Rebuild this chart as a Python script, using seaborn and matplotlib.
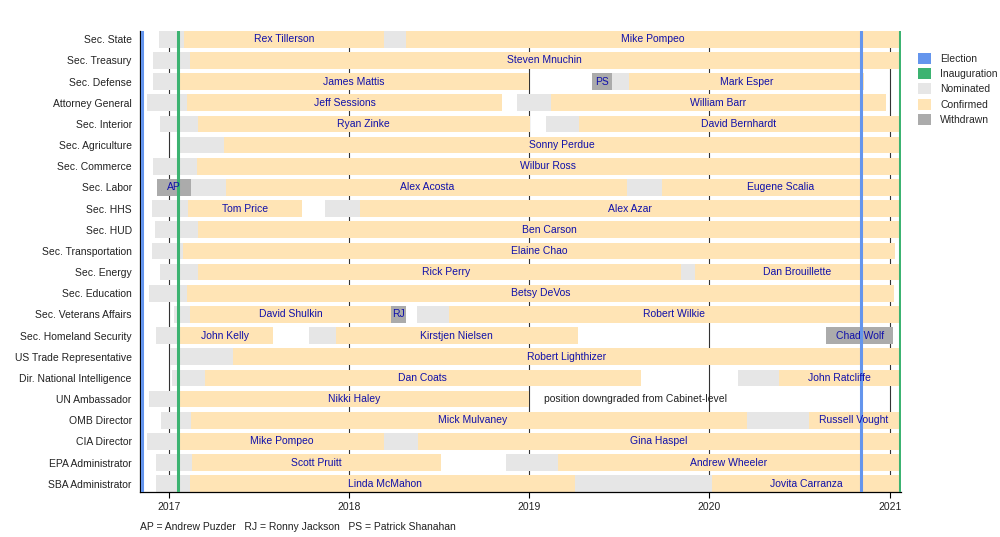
from pathlib import Path

import matplotlib.dates as mdates
import matplotlib.pyplot as plt
import pandas as pd
import seaborn as sns
from matplotlib.patches import Patch

# Rows, top to bottom
offices = [
    "Sec. State", "Sec. Treasury", "Sec. Defense", "Attorney General",
    "Sec. Interior", "Sec. Agriculture", "Sec. Commerce", "Sec. Labor",
    "Sec. HHS", "Sec. HUD", "Sec. Transportation", "Sec. Energy",
    "Sec. Education", "Sec. Veterans Affairs", "Sec. Homeland Security",
    "US Trade Representative", "Dir. National Intelligence", "UN Ambassador",
    "OMB Director", "CIA Director", "EPA Administrator", "SBA Administrator",
]

# (office, start, end) while a nominee waited for confirmation
nominated_spans = [
    ("Sec. State", "2016-12-13", "2017-02-01"),
    ("Sec. State", "2018-03-13", "2018-04-26"),
    ("Sec. Treasury", "2016-11-30", "2017-02-13"),
    ("Sec. Defense", "2016-12-01", "2017-01-20"),
    ("Sec. Defense", "2019-06-18", "2019-07-23"),
    ("Attorney General", "2016-11-18", "2017-02-08"),
    ("Attorney General", "2018-12-07", "2019-02-14"),
    ("Sec. Interior", "2016-12-15", "2017-03-01"),
    ("Sec. Interior", "2019-02-04", "2019-04-11"),
    ("Sec. Agriculture", "2017-01-18", "2017-04-24"),
    ("Sec. Commerce", "2016-11-30", "2017-02-27"),
    ("Sec. Labor", "2017-02-15", "2017-04-27"),
    ("Sec. Labor", "2019-07-19", "2019-09-27"),
    ("Sec. HHS", "2016-11-29", "2017-02-10"),
    ("Sec. HHS", "2017-11-13", "2018-01-24"),
    ("Sec. HUD", "2016-12-05", "2017-03-02"),
    ("Sec. Transportation", "2016-11-29", "2017-01-31"),
    ("Sec. Energy", "2016-12-14", "2017-03-02"),
    ("Sec. Energy", "2019-11-04", "2019-12-03"),
    ("Sec. Education", "2016-11-23", "2017-02-07"),
    ("Sec. Veterans Affairs", "2017-01-11", "2017-02-13"),
    ("Sec. Veterans Affairs", "2018-05-18", "2018-07-23"),
    ("Sec. Homeland Security", "2016-12-07", "2017-01-20"),
    ("Sec. Homeland Security", "2017-10-12", "2017-12-05"),
    ("US Trade Representative", "2017-01-03", "2017-05-11"),
    ("Dir. National Intelligence", "2017-01-07", "2017-03-15"),
    ("Dir. National Intelligence", "2020-02-28", "2020-05-21"),
    ("UN Ambassador", "2016-11-23", "2017-01-24"),
    ("OMB Director", "2016-12-17", "2017-02-16"),
    ("OMB Director", "2020-03-18", "2020-07-20"),
    ("CIA Director", "2016-11-18", "2017-01-23"),
    ("CIA Director", "2018-03-13", "2018-05-21"),
    ("EPA Administrator", "2016-12-07", "2017-02-17"),
    ("EPA Administrator", "2018-11-16", "2019-02-28"),
    ("SBA Administrator", "2016-12-07", "2017-02-14"),
    ("SBA Administrator", "2019-04-04", "2020-01-07"),
]

# (office, start, end, name) while in office
confirmed_spans = [
    ("Sec. State", "2017-02-01", "2018-03-13", "Rex Tillerson"),
    ("Sec. State", "2018-04-26", "2021-01-20", "Mike Pompeo"),
    ("Sec. Treasury", "2017-02-13", "2021-01-20", "Steven Mnuchin"),
    ("Sec. Defense", "2017-01-20", "2019-01-01", "James Mattis"),
    ("Sec. Defense", "2019-07-23", "2020-11-09", "Mark Esper"),
    ("Attorney General", "2017-02-08", "2018-11-07", "Jeff Sessions"),
    ("Attorney General", "2019-02-14", "2020-12-23", "William Barr"),
    ("Sec. Interior", "2017-03-01", "2019-01-02", "Ryan Zinke"),
    ("Sec. Interior", "2019-04-11", "2021-01-20", "David Bernhardt"),
    ("Sec. Agriculture", "2017-04-24", "2021-01-20", "Sonny Perdue"),
    ("Sec. Commerce", "2017-02-27", "2021-01-20", "Wilbur Ross"),
    ("Sec. Labor", "2017-04-27", "2019-07-19", "Alex Acosta"),
    ("Sec. Labor", "2019-09-27", "2021-01-20", "Eugene Scalia"),
    ("Sec. HHS", "2017-02-10", "2017-09-29", "Tom Price"),
    ("Sec. HHS", "2018-01-24", "2021-01-20", "Alex Azar"),
    ("Sec. HUD", "2017-03-02", "2021-01-20", "Ben Carson"),
    ("Sec. Transportation", "2017-01-31", "2021-01-11", "Elaine Chao"),
    ("Sec. Energy", "2017-03-02", "2019-12-01", "Rick Perry"),
    ("Sec. Energy", "2019-12-03", "2021-01-20", "Dan Brouillette"),
    ("Sec. Education", "2017-02-07", "2021-01-08", "Betsy DeVos"),
    ("Sec. Veterans Affairs", "2017-02-13", "2018-03-28", "David Shulkin"),
    ("Sec. Veterans Affairs", "2018-07-23", "2021-01-20", "Robert Wilkie"),
    ("Sec. Homeland Security", "2017-01-20", "2017-07-31", "John Kelly"),
    ("Sec. Homeland Security", "2017-12-05", "2019-04-10", "Kirstjen Nielsen"),
    ("US Trade Representative", "2017-05-11", "2021-01-20", "Robert Lighthizer"),
    ("Dir. National Intelligence", "2017-03-15", "2019-08-15", "Dan Coats"),
    ("Dir. National Intelligence", "2020-05-21", "2021-01-20", "John Ratcliffe"),
    ("UN Ambassador", "2017-01-24", "2018-12-31", "Nikki Haley"),
    ("OMB Director", "2017-02-16", "2020-03-31", "Mick Mulvaney"),
    ("OMB Director", "2020-07-20", "2021-01-20", "Russell Vought"),
    ("CIA Director", "2017-01-23", "2018-03-13", "Mike Pompeo"),
    ("CIA Director", "2018-05-21", "2021-01-20", "Gina Haspel"),
    ("EPA Administrator", "2017-02-17", "2018-07-06", "Scott Pruitt"),
    ("EPA Administrator", "2019-02-28", "2021-01-20", "Andrew Wheeler"),
    ("SBA Administrator", "2017-02-14", "2019-04-12", "Linda McMahon"),
    ("SBA Administrator", "2020-01-07", "2021-01-20", "Jovita Carranza"),
]

# (office, start, end, label) for nominations that were withdrawn
withdrawn_spans = [
    ("Sec. Labor", "2016-12-08", "2017-02-15", "AP"),
    ("Sec. Defense", "2019-05-09", "2019-06-18", "PS"),
    ("Sec. Veterans Affairs", "2018-03-28", "2018-04-26", "RJ"),
    ("Sec. Homeland Security", "2020-08-25", "2021-01-07", "Chad Wolf"),
]

election_dates = ["2016-11-08", "2020-11-03"]
inauguration_dates = ["2017-01-20", "2021-01-20"]

footnote = "AP = Andrew Puzder   RJ = Ronny Jackson   PS = Patrick Shanahan"
un_note = ("UN Ambassador", "2019-01-31", "position downgraded from Cabinet-level")

colors = {
    "Election": "#6495ED",
    "Inauguration": "#3CB371",
    "Nominated": "#E6E6E6",
    "Confirmed": "#FFE4B5",
    "Withdrawn": "#ABABAB",
}
label_color = "#1010AA"

sns.set_theme(style="white")
plt.rcParams["font.family"] = ["Liberation Sans", "DejaVu Sans"]
plt.rcParams["font.size"] = 7.5

row_of = {office: i for i, office in enumerate(offices)}
bar_height = 0.78


def to_num(d):
    return mdates.date2num(pd.Timestamp(d))


fig = plt.figure(figsize=(10, 5.37), dpi=100)
ax = fig.add_axes([0.140, 1 - 492 / 537, 0.761, 461 / 537])


def draw_spans(spans, color, labelled):
    for span in spans:
        office, start, end = span[:3]
        x0, x1 = to_num(start), to_num(end)
        y = row_of[office]
        ax.barh(y, x1 - x0, left=x0, height=bar_height, color=color,
                linewidth=0, zorder=2)
        if labelled:
            ax.text((x0 + x1) / 2, y, span[3], ha="center", va="center",
                    color=label_color, fontsize=7.5, zorder=5)


draw_spans(confirmed_spans, colors["Confirmed"], True)
draw_spans(nominated_spans, colors["Nominated"], False)
draw_spans(withdrawn_spans, colors["Withdrawn"], True)

for d in election_dates:
    ax.axvline(to_num(d), color=colors["Election"], lw=2.2, zorder=4)
for d in inauguration_dates:
    ax.axvline(to_num(d), color=colors["Inauguration"], lw=2.2, zorder=4)

ax.text(to_num(un_note[1]), row_of[un_note[0]], un_note[2], ha="left",
        va="center", color="#222222", fontsize=7.5, zorder=5)

ax.set_xlim(to_num("2016-11-04"), to_num("2021-01-23"))
ax.set_ylim(len(offices) - 1 + 0.39, -0.39)
ax.set_yticks(range(len(offices)))
ax.set_yticklabels(offices, color="#222222", fontsize=7.5)
ax.xaxis.set_major_locator(mdates.YearLocator())
ax.xaxis.set_major_formatter(mdates.DateFormatter("%Y"))
ax.tick_params(axis="x", length=4, width=0.8, color="black", bottom=True,
               labelsize=7.5, labelcolor="#222222", pad=3)
ax.tick_params(axis="y", length=0, pad=6)

ax.set_axisbelow(True)
ax.xaxis.grid(True, color="#333333", lw=0.8)
ax.yaxis.grid(False)
for side in ["top", "right"]:
    ax.spines[side].set_visible(False)
for side in ["left", "bottom"]:
    ax.spines[side].set_color("black")
    ax.spines[side].set_linewidth(0.9)

handles = [Patch(facecolor=c, edgecolor="none", label=k) for k, c in colors.items()]
fig.legend(
    handles=handles,
    loc="upper left",
    bbox_to_anchor=(0.918, 1 - 53 / 537),
    frameon=False,
    fontsize=7.5,
    handlelength=1.25,
    handleheight=1.25,
    handletextpad=0.9,
    labelspacing=0.4,
    borderpad=0,
    borderaxespad=0,
)

fig.text(0.140, 1 - 527 / 537, footnote, ha="left", va="center",
         color="#222222", fontsize=7.5)

fig.savefig(Path("out.png"), dpi=100)
